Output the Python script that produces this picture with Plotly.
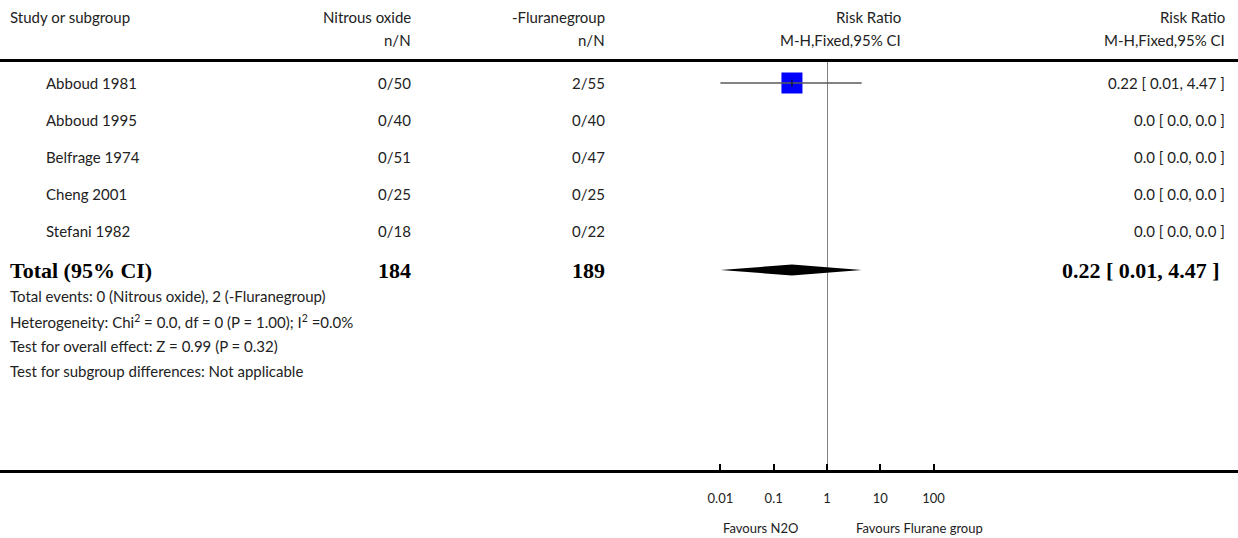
import math
import plotly.graph_objects as go

# ---------------- data ----------------
studies = ["Abboud 1981", "Abboud 1995", "Belfrage 1974", "Cheng 2001", "Stefani 1982"]
n2o_events = [0, 0, 0, 0, 0]
n2o_total = [50, 40, 51, 25, 18]
flu_events = [2, 0, 0, 0, 0]
flu_total = [55, 40, 47, 25, 22]
rr = [0.22, None, None, None, None]
rr_low = [0.01, None, None, None, None]
rr_high = [4.47, None, None, None, None]
weights = [100.0, 0.0, 0.0, 0.0, 0.0]

total_label = "Total (95% CI)"
total_n2o = 184
total_flu = 189
total_rr = 0.22
total_low = 0.01
total_high = 4.47

footnotes = [
    "Total events: 0 (Nitrous oxide), 2 (-Fluranegroup)",
    "Heterogeneity: Chi<sup>2</sup> = 0.0, df = 0 (P = 1.00); I<sup>2</sup> =0.0%",
    "Test for overall effect: Z = 0.99 (P = 0.32)",
    "Test for subgroup differences: Not applicable",
]

tick_values = [0.01, 0.1, 1, 10, 100]
tick_labels = ["0.01", "0.1", "1", "10", "100"]
favours_left = "Favours N2O"
favours_right = "Favours Flurane group"

# ---------------- layout geometry ----------------
W, H = 1238, 538
SANS = "Gill Sans, Gill Sans MT, Lato, sans-serif"
SERIF = "Palatino Linotype, Book Antiqua, Palatino, Liberation Serif, serif"
TXT = "#222222"
FS = 15

X_ONE_PX = 827.0
DEC_PX = 53.3
X_L, X_R = 0.0, 1238.0
ROW0_PX, ROW_PX = 83.0, 37.0
TOP_LINE_PX, AXIS_PX = 62.0, 470.0


def px_to_row(p):
    return (p - ROW0_PX) / ROW_PX


def px(xp):
    return xp / W


def py(yp):
    return 1 - yp / H


row_y = list(range(len(studies)))
total_y = px_to_row(270)

fig = go.Figure()

# study boxes + CIs
for i, s in enumerate(studies):
    if rr[i] is None:
        continue
    yv = row_y[i]
    fig.add_trace(go.Scatter(
        x=[math.log10(rr[i])], y=[yv], mode="markers",
        marker=dict(symbol="square", size=21 * math.sqrt(weights[i] / 100.0), color="#0000ff",
                    line=dict(width=0)),
        hoverinfo="skip", showlegend=False))
    fig.add_trace(go.Scatter(
        x=[math.log10(rr_low[i]), math.log10(rr_high[i])], y=[yv, yv], mode="lines",
        line=dict(color="#5a5a5a", width=1.3), hoverinfo="skip", showlegend=False))
    fig.add_trace(go.Scatter(
        x=[math.log10(rr[i])], y=[yv], mode="markers",
        marker=dict(symbol="line-ns", size=5, line=dict(color="#111111", width=1.2)),
        hoverinfo="skip", showlegend=False))

# total diamond
dh = 5.5 / ROW_PX
lx = [math.log10(total_low), math.log10(total_rr), math.log10(total_high), math.log10(total_rr), math.log10(total_low)]
ly = [total_y, total_y - dh, total_y, total_y + dh, total_y]
fig.add_trace(go.Scatter(x=lx, y=ly, mode="lines", fill="toself", fillcolor="#000000",
                         line=dict(width=0, color="#000000"), hoverinfo="skip", showlegend=False))

ann = []


def A(text, x, y, anchor, yref="paper", font=None):
    ann.append(dict(text=text, x=x, y=y, xref="paper", yref=yref, xanchor=anchor,
                    yanchor="middle", showarrow=False,
                    font=font or dict(family=SANS, size=FS, color=TXT)))


# headers
H1, H2 = 17, 40
A("Study or subgroup", px(8), py(H1), "left")
A("Nitrous oxide", px(413), py(H1), "right")
A("n/N", px(413), py(H2), "right")
A("-Fluranegroup", px(607), py(H1), "right")
A("n/N", px(607), py(H2), "right")
A("Risk Ratio", px(903), py(H1), "right")
A("M-H,Fixed,95% CI", px(903), py(H2), "right")
A("Risk Ratio", px(1227), py(H1), "right")
A("M-H,Fixed,95% CI", px(1227), py(H2), "right")

# study rows
for i, s in enumerate(studies):
    yv = row_y[i]
    A(s, px(44), yv, "left", "y")
    A(f"{n2o_events[i]}/{n2o_total[i]}", px(413), yv, "right", "y")
    A(f"{flu_events[i]}/{flu_total[i]}", px(607), yv, "right", "y")
    if rr[i] is None:
        lab = "0.0 [ 0.0, 0.0 ]"
    else:
        lab = f"{rr[i]:.2f} [ {rr_low[i]:.2f}, {rr_high[i]:.2f} ]"
    A(lab, px(1227), yv, "right", "y")

# total row
BF = dict(family=SERIF, size=22, color="#000000")
A(f"<b>{total_label}</b>", px(8), total_y, "left", "y", BF)
A(f"<b>{total_n2o}</b>", px(413), total_y, "right", "y", BF)
A(f"<b>{total_flu}</b>", px(607), total_y, "right", "y", BF)
A(f"<b>{total_rr:.2f} [ {total_low:.2f}, {total_high:.2f} ]</b>", px(1222), total_y, "right", "y", BF)

# footnotes
for k, t in enumerate(footnotes):
    A(t, px(8), py(296 + 25 * k), "left")

# favours labels (positioned on the effect axis)
SF = dict(family=SANS, size=13, color=TXT)
ann.append(dict(text=favours_left, x=-0.5, y=py(528), xref="x", yref="paper", xanchor="right",
                yanchor="middle", showarrow=False, font=SF))
ann.append(dict(text=favours_right, x=0.5, y=py(528), xref="x", yref="paper", xanchor="left",
                yanchor="middle", showarrow=False, font=SF))

fig.update_layout(
    width=W, height=H, margin=dict(l=0, r=0, t=0, b=0),
    paper_bgcolor="white", plot_bgcolor="white",
    annotations=ann, showlegend=False,
    xaxis=dict(
        domain=[X_L / W, X_R / W],
        range=[(X_L - X_ONE_PX) / DEC_PX, (X_R - X_ONE_PX) / DEC_PX],
        showgrid=False, zeroline=True, zerolinecolor="#808080", zerolinewidth=1,
        showline=True, linecolor="#000000", linewidth=3, mirror=True,
        ticks="inside", ticklen=6, tickwidth=2, tickcolor="#000000",
        tickvals=[math.log10(v) for v in tick_values], ticktext=tick_labels,
        tickfont=dict(family=SANS, size=13, color=TXT), ticklabelstandoff=14,
        layer="above traces", fixedrange=True,
    ),
    yaxis=dict(
        domain=[1 - AXIS_PX / H, 1 - TOP_LINE_PX / H],
        range=[px_to_row(AXIS_PX), px_to_row(TOP_LINE_PX)],
        visible=False, showgrid=False, zeroline=False, fixedrange=True,
    ),
)

fig.write_html("out.html", config={"displayModeBar": False},
               post_script="document.body.style.margin='0px';document.body.style.overflow='hidden';")
